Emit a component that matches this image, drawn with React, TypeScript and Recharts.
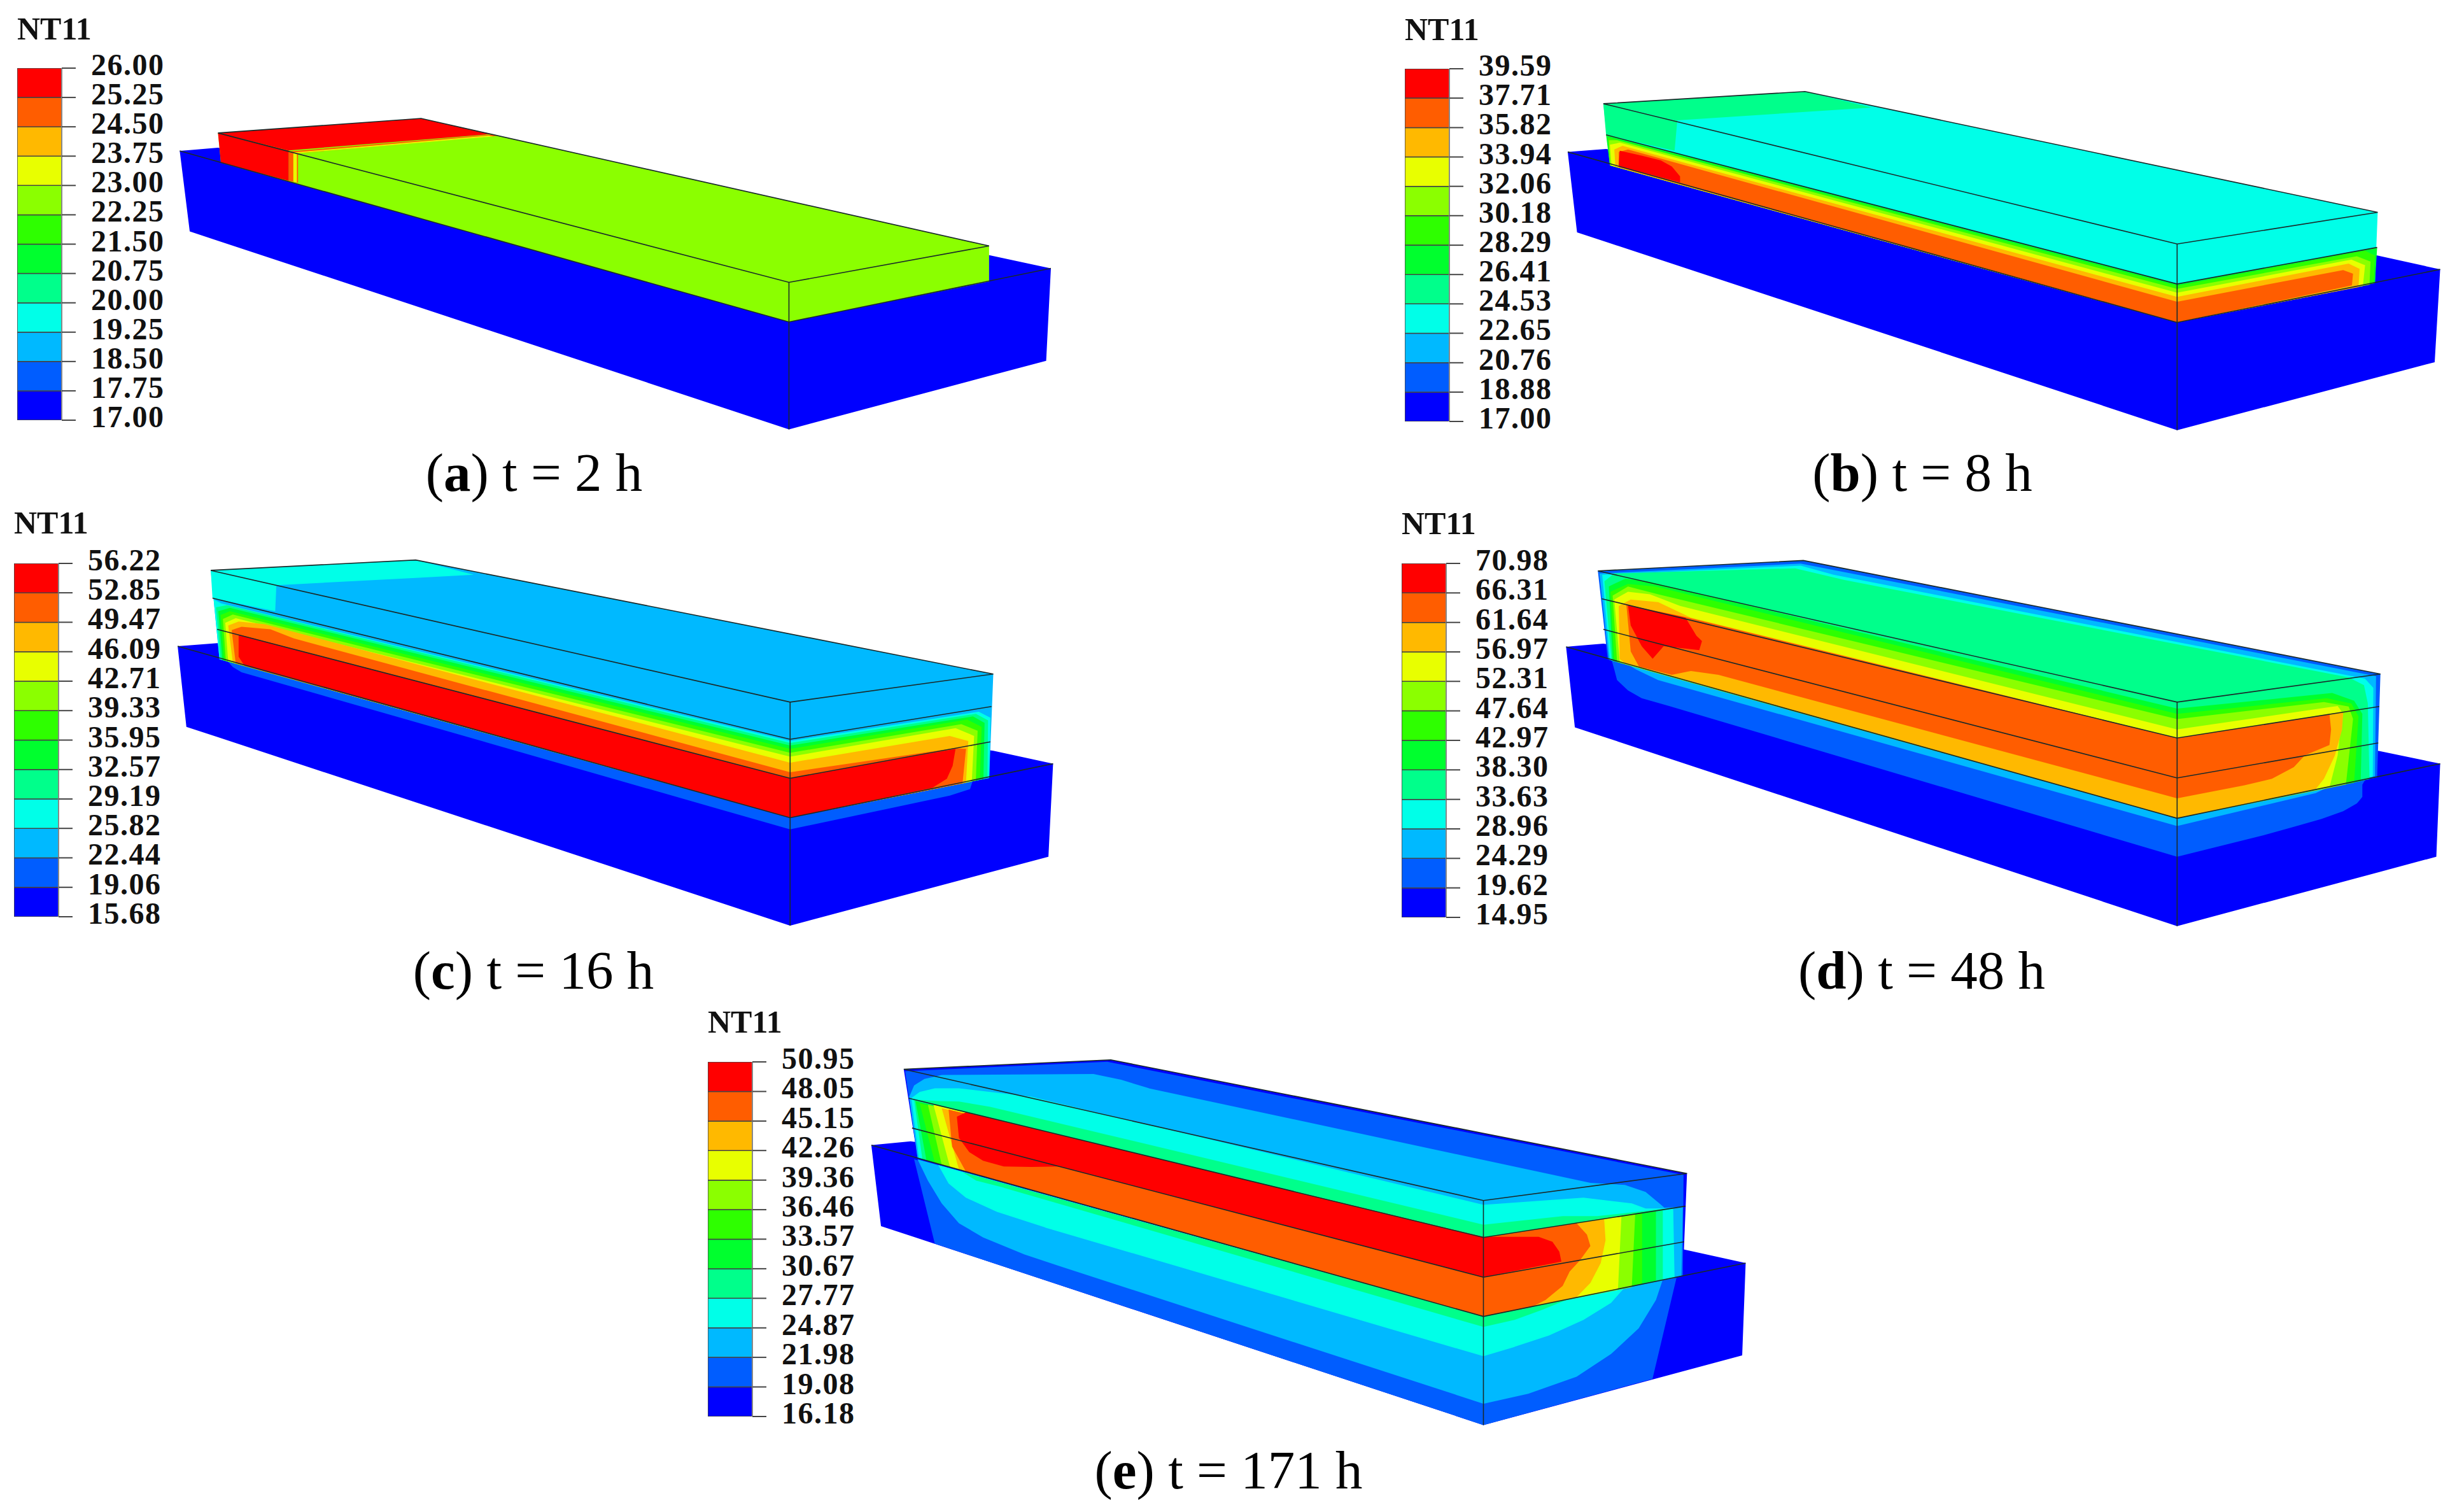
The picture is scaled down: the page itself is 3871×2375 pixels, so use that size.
import { Area, Bar, BarChart, ComposedChart, Line, XAxis, YAxis } from "recharts"

type Pt = [number, number]
type Band = [string, Pt[]]

const R = "#ff0000", O = "#ff5d00", A = "#ffb900", Y = "#e8ff00", L = "#8bff00", G1 = "#2eff00"
const G2 = "#00ff2e", G3 = "#00ff8b", C = "#00ffe8", B1 = "#00b9ff", B2 = "#005dff", B3 = "#0000ff"
const ramp = [B3, B2, B1, C, G3, G2, G1, L, Y, A, O, R]

const labelsA = ["26.00", "25.25", "24.50", "23.75", "23.00", "22.25", "21.50", "20.75", "20.00", "19.25", "18.50", "17.75", "17.00"]
const labelsB = ["39.59", "37.71", "35.82", "33.94", "32.06", "30.18", "28.29", "26.41", "24.53", "22.65", "20.76", "18.88", "17.00"]
const labelsC = ["56.22", "52.85", "49.47", "46.09", "42.71", "39.33", "35.95", "32.57", "29.19", "25.82", "22.44", "19.06", "15.68"]
const labelsD = ["70.98", "66.31", "61.64", "56.97", "52.31", "47.64", "42.97", "38.30", "33.63", "28.96", "24.29", "19.62", "14.95"]
const labelsE = ["50.95", "48.05", "45.15", "42.26", "39.36", "36.46", "33.57", "30.67", "27.77", "24.87", "21.98", "19.08", "16.18"]

// contour regions per panel, painted back to front, in crop coordinates
const bandsA: Band[] = [
  [B3, [[35, 210], [100, 198], [1410, 605], [1515, 655], [1507, 1005], [1070, 1265], [52, 515]]],
  [L, [[100, 142], [445, 87], [1410, 570], [1410, 705], [1070, 858], [105, 255]]],
  [O, [[220, 212], [565, 148], [574, 153], [236, 219], [236, 331], [220, 323]]],
  [R, [[100, 142], [445, 87], [565, 146], [220, 208]]],
  [R, [[100, 142], [220, 208], [220, 323], [105, 255]]],
  [Y, [[228, 216], [560, 152], [568, 155], [234, 219], [234, 329], [228, 326]]],
]
const linesA: Pt[][] = [
  [[100, 142], [445, 87], [1410, 570], [1070, 708], [100, 142]],
  [[35, 210], [1070, 858], [1515, 655]],
  [[1070, 708], [1070, 1265]],
]

const bandsB: Band[] = [
  [B3, [[15, 310], [85, 298], [1492, 735], [1607, 792], [1597, 1173], [1127, 1452], [32, 640]]],
  [C, [[80, 112], [448, 62], [1493, 558], [1488, 848], [1127, 1010], [92, 365]]],
  [G3, [[80, 112], [448, 62], [570, 128], [215, 180]]],
  [G3, [[80, 112], [215, 180], [210, 305], [85, 240]]],
  [G2, [[85, 240], [1127, 852], [1492, 702], [1488, 848], [1127, 1010], [92, 365]]],
  [G1, [[88, 250], [1127, 860], [1470, 715], [1488, 735], [1486, 850], [1127, 1010], [92, 365]]],
  [L, [[90, 262], [105, 262], [1127, 872], [1455, 738], [1480, 760], [1478, 855], [1127, 1010], [92, 365]]],
  [Y, [[92, 280], [110, 272], [1127, 888], [1445, 752], [1470, 775], [1466, 860], [1127, 1010], [95, 367]]],
  [A, [[100, 300], [115, 285], [1127, 905], [1440, 768], [1460, 790], [1458, 865], [1127, 1010], [102, 370]]],
  [O, [[108, 310], [125, 300], [1127, 925], [1430, 795], [1448, 810], [1446, 858], [1127, 1010], [108, 373]]],
  [R, [[110, 305], [150, 325], [185, 345], [205, 370], [220, 410], [220, 435], [108, 368]]],
]
const linesB: Pt[][] = [
  [[80, 112], [448, 62], [1493, 558], [1127, 688], [80, 112]],
  [[85, 240], [1127, 852], [1492, 702]],
  [[15, 310], [1127, 1010], [1607, 792]],
  [[1127, 688], [1127, 1452]],
]

const bandsC: Band[] = [
  [B3, [[10, 380], [78, 368], [1415, 782], [1518, 832], [1510, 1190], [1065, 1455], [25, 690]]],
  [B2, [[95, 435], [1065, 1040], [1380, 895], [1375, 930], [1340, 955], [1065, 1085], [120, 480], [105, 460]]],
  [B1, [[67, 88], [420, 48], [1415, 487], [1408, 887], [1065, 1040], [82, 430]]],
  [C, [[67, 88], [420, 48], [520, 105], [180, 145]]],
  [C, [[67, 88], [180, 145], [178, 245], [70, 195]]],
  [C, [[72, 200], [85, 215], [1065, 745], [1390, 632], [1410, 655], [1408, 887], [1065, 1040], [82, 430]]],
  [G3, [[76, 230], [95, 222], [1065, 752], [1385, 640], [1406, 665], [1405, 885], [1065, 1040], [84, 431]]],
  [G2, [[80, 245], [100, 232], [1065, 762], [1380, 650], [1400, 675], [1398, 891], [1065, 1040], [87, 433]]],
  [G1, [[84, 260], [100, 245], [1065, 775], [1370, 662], [1395, 690], [1392, 893], [1065, 1040], [90, 434]]],
  [L, [[88, 275], [105, 258], [1065, 790], [1360, 680], [1388, 705], [1385, 897], [1065, 1040], [93, 436]]],
  [Y, [[92, 290], [110, 272], [1065, 805], [1350, 695], [1382, 725], [1378, 900], [1065, 1040], [97, 438]]],
  [A, [[97, 300], [115, 285], [160, 295], [1065, 828], [1340, 725], [1372, 745], [1368, 905], [1065, 1040], [105, 443]]],
  [O, [[103, 318], [120, 305], [170, 315], [210, 350], [1065, 865], [1350, 772], [1368, 775], [1362, 908], [1065, 1040], [110, 446]]],
  [R, [[115, 335], [1065, 888], [1350, 775], [1345, 840], [1335, 890], [1310, 925], [1065, 1040], [125, 455], [115, 420]]],
]
const linesC: Pt[][] = [
  [[67, 88], [420, 48], [1415, 487], [1065, 595], [67, 88]],
  [[70, 195], [1065, 738], [1412, 612]],
  [[78, 315], [1065, 888], [1410, 748]],
  [[10, 380], [1065, 1040], [1518, 832]],
  [[1065, 595], [1065, 1455]],
]

const bandsD: Band[] = [
  [B3, [[12, 382], [80, 370], [1495, 783], [1607, 832], [1600, 1190], [1127, 1457], [28, 692]]],
  [B2, [[95, 432], [1127, 1042], [1470, 895], [1460, 930], [1465, 960], [1455, 985], [1430, 1015], [1390, 1045], [1340, 1075], [1280, 1110], [1127, 1190], [200, 610], [150, 580], [125, 550], [105, 510], [100, 470]]],
  [B1, [[125, 450], [1127, 1042], [1400, 925], [1380, 945], [1127, 1072], [180, 510], [140, 470]]],
  [B2, [[70, 90], [445, 50], [1498, 487], [1492, 885], [1127, 1042], [88, 430]]],
  [B1, [[73, 100], [440, 62], [1490, 495], [1488, 880], [1127, 1042], [90, 432]]],
  [C, [[78, 105], [440, 70], [500, 105], [1470, 505], [1485, 540], [1484, 882], [1127, 1042], [92, 433]]],
  [G3, [[82, 130], [100, 100], [430, 80], [520, 125], [1440, 500], [1468, 530], [1475, 600], [1478, 892], [1127, 1042], [95, 434]]],
  [G2, [[90, 150], [120, 120], [160, 130], [1127, 620], [1410, 560], [1450, 590], [1465, 640], [1462, 899], [1127, 1042], [97, 436]]],
  [G1, [[93, 170], [125, 140], [175, 150], [1127, 640], [1400, 580], [1445, 600], [1458, 650], [1450, 905], [1127, 1042], [100, 437]]],
  [L, [[97, 185], [125, 150], [180, 180], [1127, 660], [1395, 595], [1440, 612], [1448, 660], [1435, 912], [1127, 1042], [105, 440]]],
  [Y, [[100, 200], [125, 170], [165, 180], [220, 225], [1127, 700], [1420, 610], [1430, 640], [1425, 700], [1420, 800], [1405, 923], [1127, 1042], [110, 443]]],
  [A, [[108, 225], [130, 200], [180, 210], [240, 270], [1127, 733], [1405, 640], [1430, 635], [1428, 700], [1415, 800], [1395, 890], [1380, 930], [1127, 1042], [120, 446], [110, 430]]],
  [O, [[122, 220], [235, 270], [1127, 733], [1405, 642], [1408, 700], [1405, 760], [1360, 800], [1340, 845], [1300, 890], [1250, 915], [1127, 965], [290, 490], [240, 475], [205, 490], [145, 458], [130, 400]]],
  [R, [[125, 222], [230, 270], [250, 340], [260, 360], [255, 395], [190, 380], [170, 428], [150, 380], [130, 300]]],
]
const linesD: Pt[][] = [
  [[70, 90], [445, 50], [1498, 487], [1127, 595], [70, 90]],
  [[77, 197], [1127, 733], [1496, 612]],
  [[80, 315], [1127, 887], [1494, 752]],
  [[12, 382], [1127, 1042], [1607, 832]],
  [[1127, 595], [1127, 1457]],
]

const bandsE: Band[] = [
  [B3, [[248, 445], [305, 432], [1425, 812], [1515, 860], [1510, 1185], [1135, 1430], [262, 730]]],
  [B2, [[310, 495], [1135, 1048], [1415, 910], [1380, 1268], [1135, 1430], [340, 792]]],
  [B1, [[315, 495], [1135, 1048], [1395, 918], [1385, 990], [1360, 1090], [1320, 1180], [1270, 1260], [1200, 1320], [1135, 1355], [520, 870], [470, 830], [410, 770], [375, 720], [350, 650], [330, 570]]],
  [C, [[345, 515], [1135, 1048], [1340, 945], [1320, 1000], [1280, 1060], [1230, 1115], [1180, 1155], [1135, 1188], [500, 735], [430, 680], [385, 630], [360, 580]]],
  [G3, [[380, 540], [1135, 1048], [1260, 985], [1220, 1025], [1180, 1060], [1135, 1085], [440, 595], [400, 570]]],
  [B3, [[295, 178], [595, 145], [1430, 545], [1424, 907], [1135, 1048], [315, 490]]],
  [B2, [[297, 185], [590, 152], [1425, 550], [1424, 905], [1135, 1048], [315, 490]]],
  [B1, [[303, 275], [310, 235], [325, 212], [350, 198], [570, 195], [610, 215], [650, 245], [1290, 578], [1340, 585], [1370, 610], [1390, 650], [1397, 665], [1424, 662], [1422, 905], [1135, 1048], [315, 490]]],
  [C, [[306, 280], [318, 258], [340, 245], [375, 245], [480, 275], [1135, 655], [1280, 630], [1350, 650], [1370, 668], [1410, 668], [1412, 913], [1135, 1048], [317, 492]]],
  [G3, [[310, 285], [345, 290], [375, 292], [420, 310], [1135, 725], [1250, 695], [1300, 695], [1395, 670], [1395, 920], [1135, 1048], [322, 495]]],
  [G2, [[312, 290], [1135, 770], [1385, 675], [1385, 922], [1135, 1048], [328, 500]]],
  [G1, [[318, 298], [1135, 772], [1365, 682], [1365, 935], [1135, 1048], [340, 507]]],
  [L, [[330, 303], [1135, 772], [1355, 685], [1350, 945], [1135, 1048], [350, 514]]],
  [Y, [[338, 303], [350, 310], [1135, 772], [1335, 695], [1330, 953], [1135, 1048], [362, 522]]],
  [A, [[350, 315], [1135, 772], [1310, 705], [1312, 780], [1305, 860], [1290, 930], [1270, 980], [1135, 1048], [375, 531]]],
  [O, [[360, 320], [1135, 770], [1270, 720], [1285, 760], [1290, 800], [1275, 850], [1260, 890], [1250, 940], [1225, 990], [1205, 1015], [1135, 1048], [385, 538], [365, 450]]],
  [R, [[372, 345], [385, 330], [1135, 768], [1215, 768], [1235, 785], [1245, 820], [1248, 855], [1135, 910], [520, 520], [480, 522], [440, 520], [410, 500], [390, 470], [375, 420]]],
]
const linesE: Pt[][] = [
  [[295, 178], [595, 145], [1430, 545], [1135, 640], [295, 178]],
  [[302, 280], [1135, 770], [1428, 660]],
  [[307, 385], [1135, 910], [1426, 785]],
  [[248, 445], [1135, 1048], [1515, 860]],
  [[1135, 640], [1135, 1430]],
]

// turns a polygon into low/high rows for a range Area
function toRows(poly: Pt[]) {
  const xs = [...new Set(poly.map((p) => p[0]))].sort((a, b) => a - b)
  const rows: { x: number; r: [number, number] }[] = []
  const at = (x: number) => {
    const ys: number[] = []
    poly.forEach((p, i) => {
      const q = poly[(i + 1) % poly.length]
      if (p[0] === q[0]) return
      if (x >= Math.min(p[0], q[0]) && x <= Math.max(p[0], q[0])) {
        ys.push(p[1] + ((x - p[0]) / (q[0] - p[0])) * (q[1] - p[1]))
      }
    })
    if (ys.length) rows.push({ x, r: [Math.min(...ys), Math.max(...ys)] })
  }
  xs.forEach((x) => {
    at(x - 0.01)
    at(x + 0.01)
  })
  return rows
}

function Panel({ left, top, width, height, sx, sy, bands, lines }: any) {
  return (
    <div style={{ position: "absolute", left, top }}>
      <ComposedChart width={width} height={height} margin={{ top: 0, right: 0, bottom: 0, left: 0 }}>
        <XAxis type="number" dataKey="x" domain={[0, width * sx]} hide allowDataOverflow />
        <YAxis type="number" domain={[0, height * sy]} reversed hide allowDataOverflow />
        {bands.map(([color, poly]: Band, i: number) => (
          <Area key={i} data={toRows(poly)} dataKey="r" type="linear" fill={color} fillOpacity={1} stroke="none" dot={false} activeDot={false} isAnimationActive={false} />
        ))}
        {lines.map((line: Pt[], i: number) => (
          <Line key={"l" + i} data={line.map(([x, y]) => ({ x, y }))} dataKey="y" type="linear" stroke="#1a2a2a" strokeWidth={1.6} dot={false} activeDot={false} isAnimationActive={false} />
        ))}
      </ComposedChart>
    </div>
  )
}

const font = "'Liberation Serif', serif"
const pad = 44

function ColorBar({ left, top, bottom, titleY, labels }: { left: number; top: number; bottom: number; titleY: number; labels: string[] }) {
  const values = labels.map(Number)
  const min = values[values.length - 1]
  const max = values[0]
  const row: any = { name: "NT11", base: min }
  ramp.forEach((_, i) => {
    row["c" + i] = values[values.length - 2 - i] - values[values.length - 1 - i]
  })
  return (
    <div style={{ position: "absolute", left, top: top - pad }}>
      <div style={{ position: "absolute", left: 0, top: titleY - 25 - (top - pad), fontFamily: font, fontWeight: "bold", fontSize: 50, lineHeight: "50px", color: "#111" }}>NT11</div>
      <BarChart width={275} height={bottom - top + pad * 2} data={[row]} barCategoryGap={0} margin={{ top: pad, right: 0, bottom: pad, left: 0 }}>
        <XAxis dataKey="name" hide />
        <YAxis
          type="number"
          orientation="right"
          width={205}
          domain={[min, max]}
          ticks={values}
          interval={0}
          allowDataOverflow
          tickFormatter={(v: number) => v.toFixed(2)}
          axisLine={{ stroke: "#888", strokeWidth: 2 }}
          tickLine={{ stroke: "#444", strokeWidth: 2 }}
          tickSize={22}
          tickMargin={24}
          tick={{ fontFamily: font, fontWeight: "bold", fontSize: 48, letterSpacing: 1.5, fill: "#111", textAnchor: "start", dy: -6 }}
        />
        <Bar dataKey="base" stackId="s" fill="none" isAnimationActive={false} />
        {ramp.map((c, i) => (
          <Bar key={c} dataKey={"c" + i} stackId="s" fill={c} stroke="#444" strokeWidth={1.5} isAnimationActive={false} />
        ))}
      </BarChart>
    </div>
  )
}

function Caption({ x, y, letter, text }: { x: number; y: number; letter: string; text: string }) {
  return (
    <div style={{ position: "absolute", left: x - 400, width: 800, top: y - 76, textAlign: "center", fontFamily: font, fontSize: 85, lineHeight: "96px", color: "#000", whiteSpace: "pre" }}>
      (<b>{letter}</b>) {text}
    </div>
  )
}

export default function App() {
  return (
    <div style={{ position: "absolute", left: 0, top: 0, width: 3871, height: 2375, background: "#fff", overflow: "hidden" }}>
      <Panel left={250} top={150} width={1450} height={650} sx={1.0814} sy={2.412} bands={bandsA} lines={linesA} />
      <Panel left={2450} top={120} width={1400} height={600} sx={1.1615} sy={2.613} bands={bandsB} lines={linesB} />
      <Panel left={270} top={860} width={1430} height={640} sx={1.0965} sy={2.45} bands={bandsC} lines={linesC} />
      <Panel left={2450} top={860} width={1400} height={640} sx={1.1615} sy={2.45} bands={bandsD} lines={linesD} />
      <Panel left={1100} top={1600} width={1700} height={700} sx={0.9224} sy={2.24} bands={bandsE} lines={linesE} />
      <ColorBar left={27} top={107} bottom={660} titleY={45} labels={labelsA} />
      <ColorBar left={2207} top={108} bottom={662} titleY={46} labels={labelsB} />
      <ColorBar left={22} top={885} bottom={1440} titleY={821} labels={labelsC} />
      <ColorBar left={2202} top={885} bottom={1441} titleY={822} labels={labelsD} />
      <ColorBar left={1112} top={1668} bottom={2225} titleY={1605} labels={labelsE} />
      <Caption x={839} y={770} letter="a" text="t = 2 h" />
      <Caption x={3020} y={770} letter="b" text="t = 8 h" />
      <Caption x={838} y={1552} letter="c" text="t = 16 h" />
      <Caption x={3019} y={1552} letter="d" text="t = 48 h" />
      <Caption x={1930} y={2337} letter="e" text="t = 171 h" />
    </div>
  )
}
